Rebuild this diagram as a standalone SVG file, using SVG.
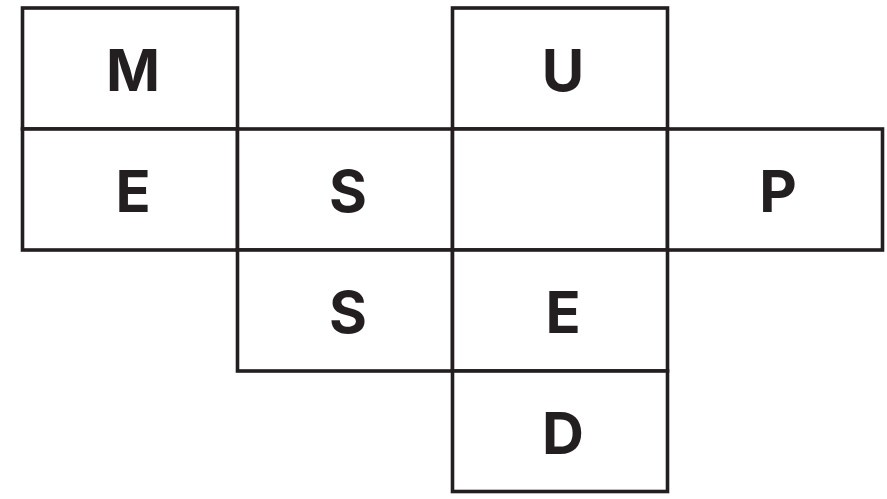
<svg xmlns="http://www.w3.org/2000/svg" width="887" height="499" viewBox="0 0 887 499">
<style>
.cell{fill:#ffffff;stroke:#231f20;stroke-width:3.6}
.lbl{font-family:Inter,"Liberation Sans",sans-serif;font-weight:700;font-size:58px;fill:#231f20;text-anchor:middle}
</style>
<rect width="887" height="499" fill="#ffffff"/>
<g id="cell-M"><rect class="cell" x="22.5" y="8" width="215" height="121"/><text class="lbl" x="133" y="91">M</text></g>
<g id="cell-U"><rect class="cell" x="452.5" y="8" width="215" height="121"/><text class="lbl" x="563" y="91">U</text></g>
<g id="cell-E1"><rect class="cell" x="22.5" y="129" width="215" height="121"/><text class="lbl" x="133" y="212">E</text></g>
<g id="cell-S1"><rect class="cell" x="237.5" y="129" width="215" height="121"/><text class="lbl" x="348" y="212">S</text></g>
<g id="cell-blank"><rect class="cell" x="452.5" y="129" width="215" height="121"/></g>
<g id="cell-P"><rect class="cell" x="667.5" y="129" width="215" height="121"/><text class="lbl" x="778" y="212">P</text></g>
<g id="cell-S2"><rect class="cell" x="237.5" y="250" width="215" height="121"/><text class="lbl" x="348" y="333">S</text></g>
<g id="cell-E2"><rect class="cell" x="452.5" y="250" width="215" height="121"/><text class="lbl" x="563" y="333">E</text></g>
<g id="cell-D"><rect class="cell" x="452.5" y="371" width="215" height="120.5"/><text class="lbl" x="563" y="453.5">D</text></g>
</svg>
